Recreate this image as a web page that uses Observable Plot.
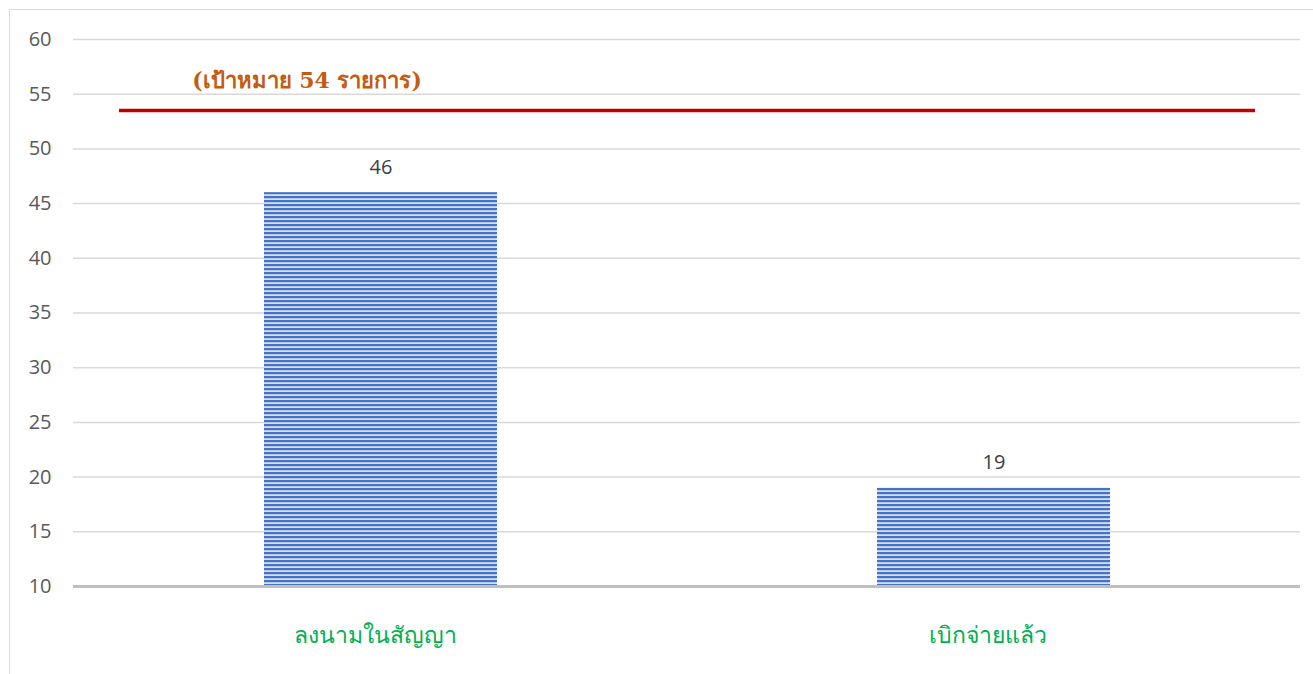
<!DOCTYPE html>
<html>
<head>
<meta charset="utf-8">
<script src="https://cdn.jsdelivr.net/npm/d3@7"></script>
<script src="https://cdn.jsdelivr.net/npm/@observablehq/plot@0.6"></script>
<style>
  html, body { margin: 0; padding: 0; background: #fff; }
  #wrap { position: relative; width: 1313px; height: 674px; overflow: hidden; }
  #frame { position: absolute; left: 9px; top: 9px; right: 0; bottom: 0; border-top: 1.5px solid #d9d9d9; border-left: 1.5px solid #d9d9d9; pointer-events: none; }
  #chart { position: absolute; left: 0; top: 0; }
</style>
</head>
<body>
<div id="wrap"><div id="chart"></div><div id="frame"></div></div>
<script>
const categories = ["ลงนามในสัญญา", "เบิกจ่ายแล้ว"];
const values = [46, 19];
const targetValue = 53.5;
const targetLabel = "(เป้าหมาย 54 รายการ)";
const yTicks = [10, 15, 20, 25, 30, 35, 40, 45, 50, 55, 60];

const data = categories.map((c, i) => ({ category: c, value: values[i] }));

const chart = Plot.plot({
  width: 1313,
  height: 674,
  marginLeft: 73,
  marginRight: 13,
  marginTop: 39,
  marginBottom: 88,
  style: { fontFamily: "'Open Sans', 'Noto Sans', sans-serif", background: "transparent" },
  x: { domain: categories, padding: 0, label: null },
  y: { domain: [10, 60], ticks: yTicks, label: null },
  marks: [
    Plot.gridY(yTicks, { stroke: "#d9d9d9", strokeOpacity: 1, strokeWidth: 1.5 }),
    Plot.axisY(yTicks, { tickSize: 0, tickPadding: 22, fontSize: 20, fill: "#595959", label: null }),
    Plot.axisX({ tickSize: 0, tickPadding: 40, fontSize: 23, dx: -6, fill: "#00B050", label: null }),
    Plot.barY(data, { x: "category", y1: 10, y2: "value", fill: "url(#stripes)", insetLeft: 190, insetRight: 190 }),
    Plot.ruleY([10], { stroke: "#bfbfbf", strokeWidth: 3 }),
    Plot.text(data, { x: "category", y: "value", text: d => String(d.value), dy: -25, fontSize: 20, fill: "#404040" }),
    Plot.ruleY([targetValue], { stroke: "#C00000", strokeWidth: 3.5, insetLeft: 46, insetRight: 45 }),
    Plot.text([targetLabel], { x: () => categories[0], y: () => 56.2, text: d => d, dx: -74, fontSize: 22, fontWeight: "bold", fill: "#C55A11", fontFamily: "'DejaVu Serif', 'Liberation Serif', serif" })
  ]
});

const ns = "http://www.w3.org/2000/svg";
const defs = document.createElementNS(ns, "defs");
defs.innerHTML = `<pattern id="stripes" patternUnits="userSpaceOnUse" width="8" height="4">
  <rect width="8" height="4" fill="#d5dff2"></rect>
  <rect width="8" height="2.2" fill="#4472C4"></rect>
</pattern>`;
chart.insertBefore(defs, chart.firstChild);
document.getElementById("chart").appendChild(chart);
</script>
</body>
</html>
